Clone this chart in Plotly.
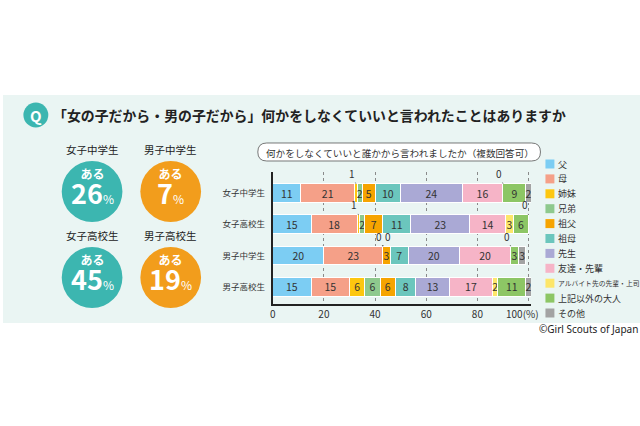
import plotly.graph_objects as go

W, H = 640, 426
FONT = "Noto Sans CJK JP"

# ---------------- data ----------------
title_text = "「女の子だから・男の子だから」何かをしなくていいと言われたことはありますか"
subtitle_text = "何かをしなくていいと誰かから言われましたか（複数回答可）"
categories = ["女子中学生", "女子高校生", "男子中学生", "男子高校生"]
yes_rates = [26, 45, 7, 19]          # 女子中, 女子高, 男子中, 男子高
series_names = ["父", "母", "姉妹", "兄弟", "祖父", "祖母", "先生", "友達・先輩",
                "アルバイト先の先輩・上司", "上記以外の大人", "その他"]
v_father = [11, 15, 20, 15]
v_mother = [21, 18, 23, 15]
v_sister = [1, 1, 0, 6]
v_brother = [2, 2, 0, 6]
v_gfather = [5, 7, 3, 6]
v_gmother = [10, 11, 7, 8]
v_teacher = [24, 23, 20, 13]
v_friend = [16, 14, 20, 17]
v_parttime = [0, 3, 0, 2]
v_other_adult = [9, 6, 3, 11]
v_other = [2, 0, 3, 2]
series_values = [v_father, v_mother, v_sister, v_brother, v_gfather, v_gmother,
                 v_teacher, v_friend, v_parttime, v_other_adult, v_other]
series_colors = ["#7ccdf3", "#f5a088", "#fdc70f", "#8ec98d", "#f6a400", "#6bc6bd",
                 "#aaa9d5", "#f6b4c7", "#fde66a", "#8dc665", "#a3a3a3"]
x_ticks = [0, 20, 40, 60, 80, 100]
x_ticktext = ["0", "20", "40", "60", "80", ""]
copyright_text = "©Girl Scouts of Japan"

TEAL = "#3cb6b0"
ORANGE = "#f29d1c"
BG = "#eaf5f3"
TXT = "#333333"


def px(x):
    return x / W


def py(y):
    return 1 - y / H


fig = go.Figure()

# bars
for name, vals, col in zip(series_names, series_values, series_colors):
    fig.add_trace(go.Bar(
        name=name, y=categories, x=vals, orientation="h",
        marker=dict(color=col, line=dict(color="white", width=1)),
        width=0.6,
        text=[str(v) if v >= 2 else "" for v in vals],
        textposition="inside", insidetextanchor="middle", textangle=0,
        textfont=dict(size=10.5, color=TXT, family=FONT),
        showlegend=False, hoverinfo="skip",
    ))

# y positions mapping: center of category 0 at 193px, spacing 31.3px
top_px, bot_px = 172, 304
sp = 31.3
y_lo = -(193 - top_px) / sp
y_hi = (bot_px - 193) / sp

annotations = []
shapes = []

# small value labels with leader lines
for ci, cat in enumerate(categories):
    cum = 0
    prev_x = None
    for si, vals in enumerate(series_values):
        v = vals[ci]
        if v < 2:
            xc = cum + v / 2
            ax = -4
            if prev_x is not None and abs(prev_x - xc) < 0.01:
                ax = 5
            annotations.append(dict(
                x=xc, y=ci - 0.3, xref="x", yref="y", text=str(v),
                showarrow=True, arrowhead=0, arrowwidth=0.8, arrowcolor=TXT,
                ax=ax, ay=-10, standoff=0, startstandoff=0,
                font=dict(size=10, color=TXT, family=FONT)))
            prev_x = xc
        cum += v

# background panel
shapes.append(dict(type="rect", xref="paper", yref="paper", x0=0, x1=1,
                   y0=py(323), y1=py(95), fillcolor=BG, line=dict(width=0),
                   layer="below"))

# Q circle
shapes.append(dict(type="circle", xref="paper", yref="paper",
                   x0=px(33 - 12.5), x1=px(33 + 12.5), y0=py(115 + 12.5), y1=py(115 - 12.5),
                   fillcolor=TEAL, line=dict(width=0)))
annotations.append(dict(x=px(33), y=py(115), xref="paper", yref="paper", text="<b>Q</b>",
                        showarrow=False, font=dict(size=15, color="white", family=FONT),
                        xanchor="center", yanchor="middle"))
annotations.append(dict(x=px(48), y=py(115), xref="paper", yref="paper",
                        text="<b>" + title_text + "</b>", showarrow=False,
                        font=dict(size=13.9, color="#222222", family=FONT),
                        xanchor="left", yanchor="middle"))

# big circles
circle_groups = [("女子中学生", yes_rates[0], 89.5, 191.5, TEAL),
                 ("男子中学生", yes_rates[2], 168.5, 191.5, ORANGE),
                 ("女子高校生", yes_rates[1], 89.5, 277.5, TEAL),
                 ("男子高校生", yes_rates[3], 168.5, 277.5, ORANGE)]
R = 30.5
for label, rate, cx, cy, col in circle_groups:
    shapes.append(dict(type="circle", xref="paper", yref="paper",
                       x0=px(cx - R), x1=px(cx + R), y0=py(cy + R), y1=py(cy - R),
                       fillcolor=col, line=dict(width=0)))
    annotations.append(dict(x=px(cx), y=py(cy - 42), xref="paper", yref="paper",
                            text=label, showarrow=False,
                            font=dict(size=10.5, color="#222222", family=FONT),
                            xanchor="center", yanchor="middle"))
    annotations.append(dict(
        x=px(cx), y=py(cy - 3), xref="paper", yref="paper",
        text=("<span style='font-size:12px'><b>ある</b></span><br>"
              "<span style='font-size:27px'><b>%d</b></span>"
              "<span style='font-size:12px'>%%</span>") % rate,
        showarrow=False,
        font=dict(size=19.5, color="white", family=FONT),
        xanchor="center", yanchor="middle"))

# subtitle rounded box
x0b, x1b, y0b, y1b, rb = 256, 540, 143, 161, 9


def P(x, y):
    return "%.5f,%.5f" % (px(x), py(y))


path = ("M " + P(x0b + rb, y0b) + " L " + P(x1b - rb, y0b) +
        " Q " + P(x1b, y0b) + " " + P(x1b, y0b + rb) +
        " Q " + P(x1b, y1b) + " " + P(x1b - rb, y1b) +
        " L " + P(x0b + rb, y1b) +
        " Q " + P(x0b, y1b) + " " + P(x0b, y1b - rb) +
        " Q " + P(x0b, y0b) + " " + P(x0b + rb, y0b) + " Z")
shapes.append(dict(type="path", xref="paper", yref="paper", path=path,
                   fillcolor="white", line=dict(color="#555555", width=0.8)))
annotations.append(dict(x=px(399), y=py(152.5), xref="paper", yref="paper",
                        text=subtitle_text, showarrow=False,
                        font=dict(size=9.6, color=TXT, family=FONT),
                        xanchor="center", yanchor="middle"))

# legend (manual)
for i, (name, col) in enumerate(zip(series_names, series_colors)):
    yc = 164 + i * 14.9
    shapes.append(dict(type="rect", xref="paper", yref="paper",
                       x0=px(545), x1=px(554), y0=py(yc + 4.5), y1=py(yc - 4.5),
                       fillcolor=col, line=dict(width=0)))
    fs = 6.8 if len(name) > 8 else 9
    annotations.append(dict(x=px(556), y=py(yc), xref="paper", yref="paper",
                            text=name, showarrow=False,
                            font=dict(size=fs, color=TXT, family=FONT),
                            xanchor="left", yanchor="middle"))

# 100(%) label
annotations.append(dict(x=100, y=py(313.5), xref="x", yref="paper", text="100(%)",
                        showarrow=False, xshift=-6,
                        font=dict(size=10, color=TXT, family=FONT),
                        xanchor="center", yanchor="middle"))

# copyright
annotations.append(dict(x=px(640), y=py(329), xref="paper", yref="paper",
                        text=copyright_text, showarrow=False,
                        font=dict(size=10, color="#222222", family="Noto Sans"),
                        xanchor="right", yanchor="middle"))

fig.update_layout(
    width=W, height=H, margin=dict(l=0, r=0, t=0, b=0),
    paper_bgcolor="white", plot_bgcolor="rgba(0,0,0,0)",
    barmode="stack", bargap=0.4,
    uniformtext=dict(minsize=10.5, mode="show"),
    font=dict(family=FONT, color=TXT),
    shapes=shapes, annotations=annotations,
    xaxis=dict(domain=[px(271), px(530.6)], range=[0, 101],
               tickvals=x_ticks, ticktext=x_ticktext,
               showgrid=True, gridcolor="#8a8a8a", griddash="dot", gridwidth=1,
               zeroline=False, showline=True, linecolor="#222222", linewidth=2,
               ticks="", tickfont=dict(size=10, color=TXT, family=FONT),
               fixedrange=True),
    yaxis=dict(domain=[py(bot_px), py(top_px)], range=[y_hi, y_lo],
               type="category", categoryorder="array", categoryarray=categories,
               showgrid=False, zeroline=False, showline=True,
               linecolor="#222222", linewidth=2, ticks="",
               ticklabelstandoff=4,
               tickfont=dict(size=8.5, color=TXT, family=FONT), fixedrange=True),
)

fig.write_html("out.html", config={"displayModeBar": False},
               post_script="document.body.style.margin='0';document.body.style.padding='0';")
